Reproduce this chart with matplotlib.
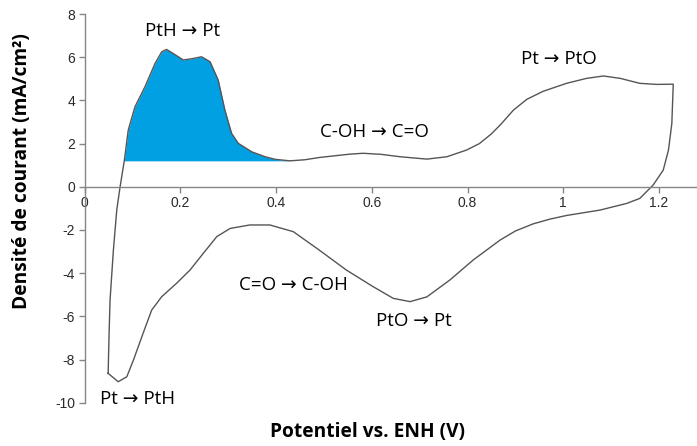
import numpy as np
import matplotlib
matplotlib.use("Agg")
import matplotlib.pyplot as plt

# branche anodique (balayage aller)
x_aller = [0.049, 0.051, 0.053, 0.060, 0.067, 0.074, 0.083, 0.091, 0.105, 0.126,
           0.147, 0.161, 0.171, 0.185, 0.206, 0.227, 0.244, 0.262, 0.279, 0.293,
           0.307, 0.321, 0.349, 0.377, 0.398, 0.429, 0.460, 0.492, 0.554, 0.582,
           0.620, 0.659, 0.715, 0.757, 0.798, 0.825, 0.850, 0.870, 0.896, 0.924,
           0.958, 1.007, 1.049, 1.084, 1.119, 1.160, 1.195, 1.230]
y_aller = [-8.64, -6.80, -5.25, -2.93, -1.08, 0.00, 1.24, 2.62, 3.70, 4.63,
           5.71, 6.25, 6.36, 6.17, 5.87, 5.94, 6.02, 5.79, 4.94, 3.55,
           2.47, 2.01, 1.62, 1.39, 1.27, 1.20, 1.25, 1.36, 1.51, 1.55,
           1.50, 1.39, 1.28, 1.39, 1.70, 2.00, 2.45, 2.90, 3.55, 4.05,
           4.42, 4.79, 5.02, 5.13, 5.02, 4.79, 4.74, 4.75]

# branche cathodique (balayage retour)
x_retour = [1.230, 1.227, 1.220, 1.209, 1.188, 1.160, 1.133, 1.077, 1.007, 0.972,
            0.937, 0.900, 0.868, 0.812, 0.763, 0.715, 0.680, 0.645, 0.603, 0.547,
            0.490, 0.436, 0.387, 0.345, 0.304, 0.276, 0.248, 0.220, 0.192, 0.161,
            0.140, 0.122, 0.102, 0.088, 0.070, 0.049]
y_retour = [4.75, 2.93, 1.70, 0.77, 0.08, -0.54, -0.77, -1.08, -1.33, -1.50,
            -1.72, -2.05, -2.47, -3.39, -4.32, -5.10, -5.32, -5.17, -4.63, -3.86,
            -2.93, -2.08, -1.77, -1.77, -1.93, -2.31, -3.08, -3.86, -4.47, -5.09,
            -5.71, -6.79, -8.02, -8.80, -9.03, -8.64]

base_h = 1.20           # ligne de base de l'aire PtH -> Pt
aire_x = (0.083, 0.430)

annotations = [
    ("PtH → Pt", 0.204, 7.21),
    ("C-OH → C=O", 0.605, 2.55),
    ("Pt → PtO", 0.991, 5.91),
    ("C=O → C-OH", 0.436, -4.55),
    ("PtO → Pt", 0.687, -6.20),
    ("Pt → PtH", 0.110, -9.85),
]

x_ticks = [0, 0.2, 0.4, 0.6, 0.8, 1, 1.2]
y_ticks = [-10, -8, -6, -4, -2, 0, 2, 4, 6, 8]

fig = plt.figure(figsize=(6.97, 4.46), dpi=100)
ax = fig.add_axes([0.1215, 0.0971, 0.8785, 0.8715])

xa = np.array(x_aller)
ya = np.array(y_aller)
masque = (xa >= aire_x[0]) & (xa <= aire_x[1])
ax.fill_between(xa, ya, base_h, where=masque & (ya >= base_h), interpolate=True,
                color="#00a0e3", lw=0)
ax.plot(x_aller + x_retour, y_aller + y_retour, color="#555555", lw=1.0)

txt_font = ["Open Sans", "DejaVu Sans"]
for t, tx, ty in annotations:
    ax.text(tx, ty, t, ha="center", va="center", fontsize=13.5,
            family=txt_font, color="black")

ax.set_xlim(0, 1.2796)
ax.set_ylim(-10, 8)
ax.spines["bottom"].set_position(("data", 0))
ax.spines["top"].set_visible(False)
ax.spines["right"].set_visible(False)
for s in ("left", "bottom"):
    ax.spines[s].set_color("#868686")
    ax.spines[s].set_linewidth(1.0)
ax.set_xticks(x_ticks)
ax.set_xticklabels([f"{v:g}" for v in x_ticks])
ax.set_yticks(y_ticks)
ax.set_yticklabels([f"{v:g}" for v in y_ticks])
ax.tick_params(direction="out", length=4, width=1, color="#868686",
               labelsize=10, labelcolor="#2a2a2a", pad=3)
for lab in ax.get_xticklabels() + ax.get_yticklabels():
    lab.set_family("Liberation Sans")

fig.text(22 / 697, 1 - 171 / 446, "Densité de courant (mA/cm²)", rotation=90,
         ha="center", va="center", fontsize=13.8, fontweight="bold", family=txt_font)
fig.text(367.5 / 697, 1 - 432 / 446, "Potentiel vs. ENH (V)",
         ha="center", va="center", fontsize=13.8, fontweight="bold", family=txt_font)

fig.savefig("out.png", dpi=100)
